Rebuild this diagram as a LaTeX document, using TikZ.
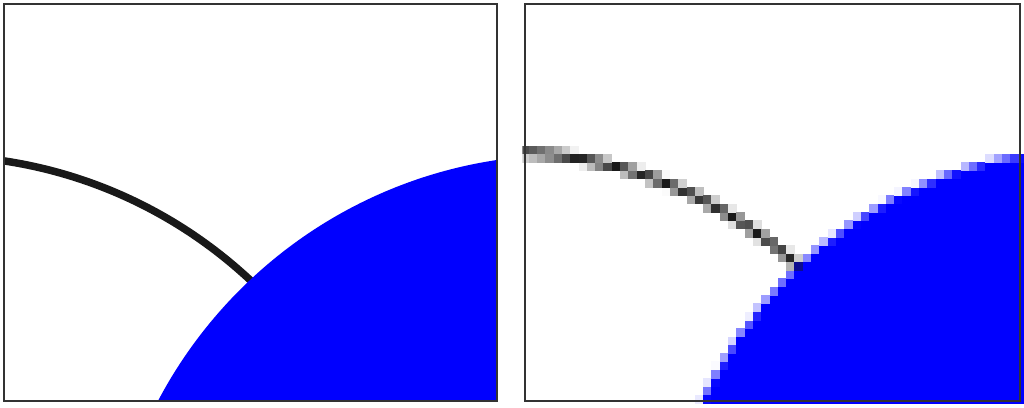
\documentclass[tikz,border=0pt]{standalone}
\usepackage{tikz}
\tikzset{
  panelframe/.style={draw=black!80, line width=1.2pt},
  arcline/.style={draw=black!90, line width=7.5pt},
  diskfill/.style={fill=blue},
}
\begin{document}
\begin{tikzpicture}[x=1pt,y=-1pt]
\useasboundingbox (0,0) rectangle (1024,407);
% ---------- left panel (vector) ----------
\begin{scope}
  \clip (4,4) rectangle (497,401);
  \draw[arcline] (-65.5,618.5) circle[radius=462.8];
  \fill[diskfill] (565.6,615.4) circle[radius=460.5];
\end{scope}
\draw[panelframe] (4,4) rectangle (497,401);
% ---------- right panel (pixelated) ----------
\begin{scope}
  \clip (522.3,0) rectangle (1024,403.3);
  \foreach \i in {-1,...,59}{
    \foreach \j in {0,...,48}{
      \pgfmathsetmacro\u{\i+0.5}
      \pgfmathsetmacro\v{\j+0.5}
      \pgfmathsetmacro\db{veclen(\u-68.14,\v+21.22)-51.90}
      \pgfmathsetmacro\cb{max(0,min(1,0.5-\db))}
      \pgfmathsetmacro\dk{veclen(\u+3.504,\v+23.31)-53.65}
      \pgfmathsetmacro\ck{max(0,min(0.45,\dk+0.5)-max(-0.45,\dk-0.5))}
      \pgfmathsetmacro\tot{\cb+\ck}
      \ifdim\tot pt>0.004pt
        \pgfmathsetmacro\pk{100*\ck}
        \pgfmathsetmacro\pb{100*\cb}
        \colorlet{pxk}{black!\pk!white}
        \colorlet{pxc}{blue!\pb!pxk}
        \pgfmathsetmacro\xa{529+\i*8.305-0.3}
        \pgfmathsetmacro\xb{529+(\i+1)*8.305+0.3}
        \pgfmathsetmacro\ya{403.3-(\j+1)*8.305-0.3}
        \pgfmathsetmacro\yb{403.3-\j*8.305+0.3}
        \fill[pxc] (\xa,\ya) rectangle (\xb,\yb);
      \fi
    }
  }
\end{scope}
\draw[panelframe] (525,4) rectangle (1020,401);
\end{tikzpicture}
\end{document}
